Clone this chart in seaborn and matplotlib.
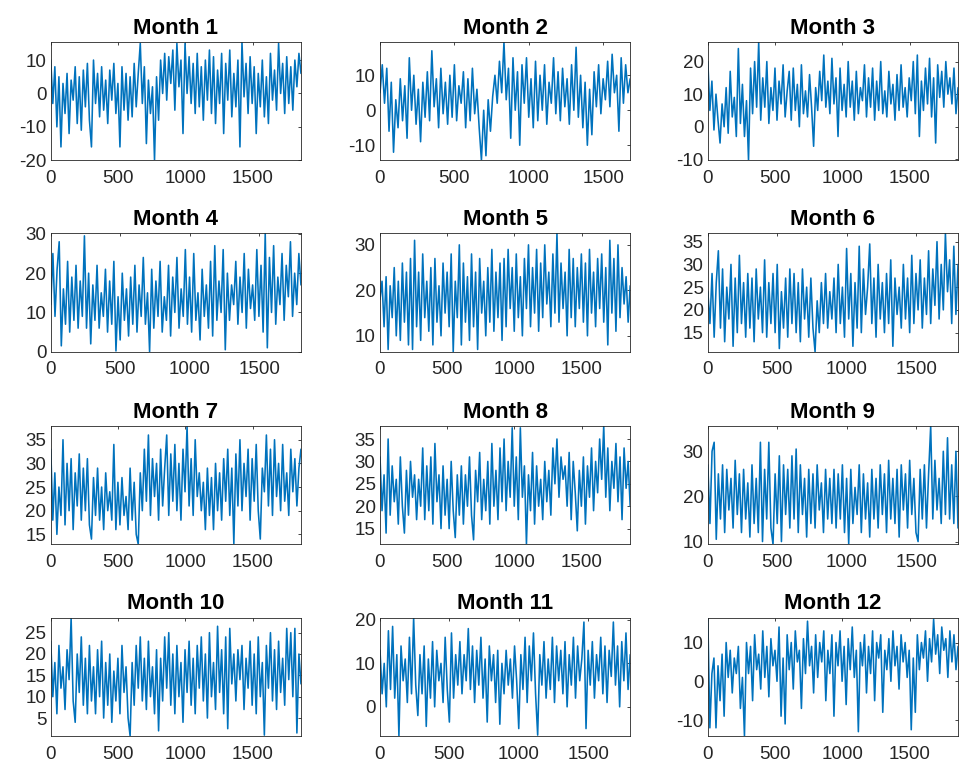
import numpy as np
import matplotlib
matplotlib.use("Agg")
import matplotlib.pyplot as plt
import seaborn as sns

# ---- data (one sample per ~15 days) ----
titles = [f"Month {i}" for i in range(1, 13)]
n_days = [1860, 1680, 1860, 1800, 1860, 1800, 1860, 1860, 1800, 1860, 1800, 1860]
xticks = [0, 500, 1000, 1500]
yticks = [[-20, -10, 0, 10], [-10, 0, 10], [-10, 0, 10, 20], [0, 10, 20, 30],
          [10, 20, 30], [15, 20, 25, 30, 35], [15, 20, 25, 30, 35], [15, 20, 25, 30, 35],
          [10, 20, 30], [5, 10, 15, 20, 25], [0, 10, 20], [-10, 0, 10]]

month1 = [10, -3, 8, -10, 5, -16, 3, -6, 6, -12, 4, -2, 8, -9, 5, -11, 7, -4, 9, -8,
          -16, 10, -3, 6, -7, 8, -5, 4, -9, 7, -2, 9, -6, 3, -16, 8, -5, 6, -8, 5,
          -7, 9, -4, 6, 15, -3, 8, -15, 4, -6, 2, -20, 5, -8, 10, 0, 12, -2, 11, 3,
          13, -5, 15, 2, 10, -12, 15, 0, 11, -3, 9, -6, 12, -4, 8, -8, 10, -2, 13, -6,
          11, -9, 7, -3, 12, -12, 9, -2, 13, -7, 6, -4, 10, -16, 15.4, -1, 9, -6, 11, -3,
          8, -12, 6, -4, 10, -7, 5, -9, 12, -2, 7, -5, 15, 0, 9, -6, 11, -3, 8, -5, 10, 2, 12, 6]
month2 = [5, 13, 2, 12, -6, 8, -12, 3, -5, 9, -3, 7, -8, 15, 0, 10, -4, 6, -9, 8,
          -2, 11, -3, 17, 1, 9, -5, 12, -1, 8, -4, 10, -2, 13, -3, 7, 2, 11, -5, 9,
          -3, 12, -1, 6, -5, -14.3, 0, -13, 3, -6, 4, 10, 2, 14, 5, 19.5, 3, 12, -8, 15,
          0, 11, -10, 13, 2, 15, -2, 9, -5, 14, -3, 10, 0, 13, -4, 8, 2, 15, -1, 11,
          -3, 12, 1, 9, -4, 13, 0, 18, -2, 10, -5, 8, -10, 6, -7, 11, 1, 13, -1, 9,
          3, 14, 1, 16, 5, 10, -6, 15, 2, 13, 5, 9]
month3 = [20, 5, 14, -1, 10, 2, -5, 7, 0, 12, -2, 17, 3, 9, -3, 24, 1, 13, -3, 8,
          -10.3, 18, 4, 20, 6, 26, 2, 15, 6, 20, 1, 12, 5, 18, 2, 14, 7, 19, 3, 11,
          17, 2, 18, 5, 13, 0, 19, 4, 11, 3, 16, 6, -6, 12, 5, 17, 8, 22, 6, 14,
          4, 21, 7, 15, -3, 18, 5, 13, 3, 20, 6, 14, 2, 17, 4, 12, 8, 19, 3, 15,
          6, 18, 2, 14, 5, 20, 4, 11, 3, 17, 7, 13, 2, 16, 5, 19, 6, 12, 3, 15,
          8, 20, 4, 22, -3, 14, 5, 18, 7, 21, 3, 15, -5, 19, 9, 17, 6, 20, 10, 15, 7, 18, 4, 12]
month4 = [12, 25, 9, 21, 28, 1.5, 16, 7, 23, 5, 19, 8, 22, 6, 18, 9, 29.5, 6, 20, 2,
          17, 8, 22, 6, 15, 9, 21, 5, 18, 7, 23, 0.2, 14, 3, 20, 8, 16, 4, 19, 7,
          22, 5, 17, 9, 24, 7, 15, 0, 21, 6, 18, 9, 23, 5, 14, 8, 22, 4, 19, 10,
          24, 6, 16, 9, 26, 7, 19, 5, 25, 8, 15, 3, 21, 9, 17, 6, 23, 4, 27, 8,
          18, 10, 26, 0.5, 20, 8, 17, 12, 23, 7, 19, 10, 25, 6, 21, 11, 17, 8, 26, 9,
          22, 5, 30.1, 1, 24, 10, 27, 7, 19, 12, 25, 8, 22, 14, 28, 9, 20, 12, 25, 17]
month5 = [18, 22, 12, 23, 7, 21, 14, 25, 10, 22, 9, 26, 13, 24, 8, 27, 7, 31, 12, 24,
          9, 28, 14, 22, 11, 25, 8, 27, 13, 21, 10, 26, 15, 24, 12, 28, 6.5, 22, 14, 30,
          8, 26, 13, 23, 9, 28, 12, 24, 7, 27, 15, 22, 10, 25, 13, 29, 11, 24, 14, 26,
          9, 27, 12, 29, 16, 25, 11, 28, 14, 23, 10, 27, 16, 30, 12, 25, 15, 29, 11, 26,
          14, 30, 17, 24, 12, 28, 15, 32.5, 13, 26, 16, 24, 10, 29, 14, 27, 12, 25, 16, 28,
          13, 26, 10, 29, 15, 24, 12, 27, 16, 28, 13, 25, 8, 31, 15, 27, 11, 30, 14, 25, 17, 23, 13, 21]
month6 = [24, 17, 28, 14, 26, 33, 16, 29, 13, 25, 18, 30, 12, 27, 15, 32, 17, 26, 14, 28,
          16, 27, 13, 29, 18, 25, 15, 31, 14, 26, 17, 28, 15, 30, 11.5, 24, 16, 27, 14, 29,
          17, 28, 15, 26, 13, 29, 18, 25, 14, 27, 16, 10.8, 22, 15, 26, 17, 28, 16, 24, 18,
          27, 15, 30, 17, 25, 14, 33.5, 18, 28, 12, 26, 16, 34, 15, 29, 19, 25, 34.5, 17, 27,
          14, 30, 18, 26, 15, 28, 17, 31, 12, 27, 19, 25, 16, 30, 18, 27, 15, 32, 17, 28,
          20, 31, 16, 27, 19, 33, 17, 29, 21, 35, 18, 30, 20, 36.8, 24, 31, 17, 34, 19, 30]
month7 = [33, 18, 28, 15, 25, 19, 35, 17, 30, 20, 31, 16, 28, 21, 32, 18, 29, 20, 31, 17,
          14, 27, 19, 29, 18, 25, 16, 28, 20, 24, 18, 34, 16, 26, 17, 27, 19, 23, 16, 29,
          18, 26, 15, 12.9, 28, 20, 33, 22, 36, 19, 31, 23, 30, 18, 33, 21, 29, 36, 19, 32,
          22, 34, 20, 30, 18, 33, 24, 37.9, 21, 31, 19, 35, 23, 28, 20, 26, 16, 29, 19, 27,
          16, 30, 20, 28, 18, 31, 22, 33, 19, 29, 13, 32, 21, 35, 20, 30, 23, 33, 18, 31,
          22, 34, 20, 14, 29, 24, 36, 21, 33, 19, 35, 23, 30, 20, 34, 22, 28, 19, 33, 24, 31, 21, 29, 33]
month8 = [31, 19, 27, 14, 35, 18, 29, 21, 26, 16, 31, 20, 14, 28, 18, 30, 22, 27, 17, 26,
          20, 33, 17, 29, 19, 31, 16, 34, 21, 27, 15, 29, 18, 26, 15, 30, 19, 13, 27, 18,
          29, 16, 27, 20, 31, 18, 12.5, 28, 21, 32, 17, 26, 19, 30, 16, 34, 20, 28, 17, 33,
          21, 35, 19, 30, 22, 37.5, 20, 31, 17, 37.5, 22, 29, 11.5, 27, 19, 32, 16, 29, 20, 26,
          17, 30, 21, 28, 18, 33, 25, 35, 22, 31, 26, 29, 20, 32, 17, 30, 23, 14.5, 28, 20,
          31, 16, 29, 22, 33, 19, 30, 23, 35, 26, 37.9, 22, 33, 19, 30, 24, 34, 21, 31, 17, 33, 24, 30, 20]
month9 = [27, 14, 30, 32, 10.5, 25, 15, 27, 12, 26, 17, 24, 13, 28, 16, 25, 12, 26, 15, 23,
          11, 27, 14, 24, 12, 32, 10, 26, 15, 32, 13, 9.4, 25, 14, 29, 10, 27, 16, 26, 13,
          29, 15, 30.5, 12, 27, 16, 24, 11, 26, 14, 25, 13, 27, 17, 23, 12, 26, 15, 24, 14,
          26, 13, 25, 15, 27, 12, 24, 9.5, 26, 14, 22, 16, 27, 12, 25, 15, 23, 11, 26, 15,
          24, 13, 27, 16, 25, 12, 28, 15, 24, 14, 26, 11, 27, 17, 25, 13, 28, 16, 24, 12,
          10, 26, 15, 27, 13, 25, 35.6, 15, 28, 17, 24, 14, 30, 16, 33, 15, 27, 14, 30, 13]
month10 = [23, 10, 18, 6, 22, 12, 17, 7, 21, 14, 28.5, 9, 4, 20, 11, 24, 8, 19, 6, 22,
           9, 17, 6, 21, 10, 23, 5, 18, 8, 20, 4, 16, 9, 19, 6, 22, 11, 17, 5, 0.8,
           18, 8, 22, 12, 24, 9, 19, 7, 23, 10, 17, 6, 21, 2, 19, 9, 24, 12, 25, 8,
           20, 6, 22, 10, 18, 4, 21, 11, 23, 8, 19, 6, 22, 12, 24, 9, 20, 5, 25, 10,
           18, 7, 26.5, 11, 21, 6, 24, 2.5, 26, 13, 20, 9, 21, 14, 22, 7, 19, 12, 23, 8,
           20, 6, 24, 10, 18, 1, 22, 12, 25, 9, 21, 7, 23, 11, 19, 8, 26, 14, 25, 10, 26, 1.5, 20, 13]
month11 = [13, 3, 10, 0, 17.5, 4, 18.5, 2, 12, -6.7, 14, 6, 11, 1, 16, 3, 20.5, 5, -2, 12,
           3, 14, -4.5, 11, 2, 15, 0, 13, 6, 10, 1, 16, 4, -3.5, 17, 2, 12, 5, 15, 3,
           12, 6, 18, 4, 14, 1, 13, 5, 16, 2, 11, -3.5, 14, 6, 12, 1, 13, -4, 10, 3,
           13, 5, 11, 2, 14, 6, -5, 12, 4, 16, 1, 14, 6, 17, 3, -6.5, 12, 5, 15, 2,
           11, 4, 16, 1, 14, 6, 13, 3, 15, 0, 12, 5, 16, 2, 14, 6, 11, 19.5, -5, 13,
           5, 15, 2, 12, 6, 16, 3, 14, 1, 13, 7, 19.5, 5, 14, 0, 15, 6, 17, 4, 12]
month12 = [16.4, -12, 2, 6, -12, 4, -5, 7, -9, 10, 1, 8, -3, 6, 2, 9, -7, 1, -14.1, 10,
           2, 9, -5, 12, 3, 7, -2, 13, 1, 9, -4, 11, 4, 8, 0, 14, -9, 6, -11, 12,
           3, 10, -2, 13, 5, 8, -7, 11, 2, 15.5, 4, 9, -3, 12, 1, 10, 5, 13, -5, 8,
           2, 12, -9, 10, 4, 13, 0, 9, -6, 11, 3, 14, 1, 8, -13, 10, 4, 12, -3, 9,
           2, 13, -5, 10, 6, 12, -8, 8, 3, 11, 0, 13, 4, 9, -2, 12, 5, 10, 1, 8,
           -12.5, 6, -8, 12, 3, 10, 6, 13, 0, 11, 5, 16, 7, 12, 2, 14, 8, 11, 1, 13, 5, 12, 3, 9]

series = [month1, month2, month3, month4, month5, month6,
          month7, month8, month9, month10, month11, month12]

# ---- styling ----
sns.set_theme(style="white")
plt.rcParams["font.family"] = ["Liberation Sans", "DejaVu Sans"]
plt.rcParams["axes.unicode_minus"] = False
line_color = "#0072BD"
axis_color = "#262626"

fig = plt.figure(figsize=(9.74, 7.68), dpi=100)
lefts = [0.052, 0.390, 0.7266]
bottoms = [0.7913, 0.542, 0.2913, 0.0417]
w, h = 0.257, 0.154

for i, (vals, nd) in enumerate(zip(series, n_days)):
    r, c = divmod(i, 3)
    ax = fig.add_axes([lefts[c], bottoms[r], w, h])
    y = np.asarray(vals, dtype=float)
    x = np.linspace(1, nd, len(y))
    sns.lineplot(x=x, y=y, ax=ax, color=line_color, linewidth=1.15,
                 estimator=None, sort=False)
    ax.set_xlim(0, nd)
    ax.set_ylim(y.min(), y.max())
    ax.set_xticks(xticks)
    ax.set_yticks(yticks[i])
    ax.set_xlabel("")
    ax.set_ylabel("")
    ax.set_title(titles[i], fontsize=16, fontweight="bold", color="black", pad=6)
    ax.tick_params(direction="in", top=True, right=True, length=2.5, width=0.6,
                   colors=axis_color, labelsize=13.5)
    ax.tick_params(axis="y", pad=3)
    ax.tick_params(axis="x", pad=7)
    for sp in ax.spines.values():
        sp.set_visible(True)
        sp.set_color(axis_color)
        sp.set_linewidth(0.6)
    ax.grid(False)

fig.savefig("out.png", dpi=100)
